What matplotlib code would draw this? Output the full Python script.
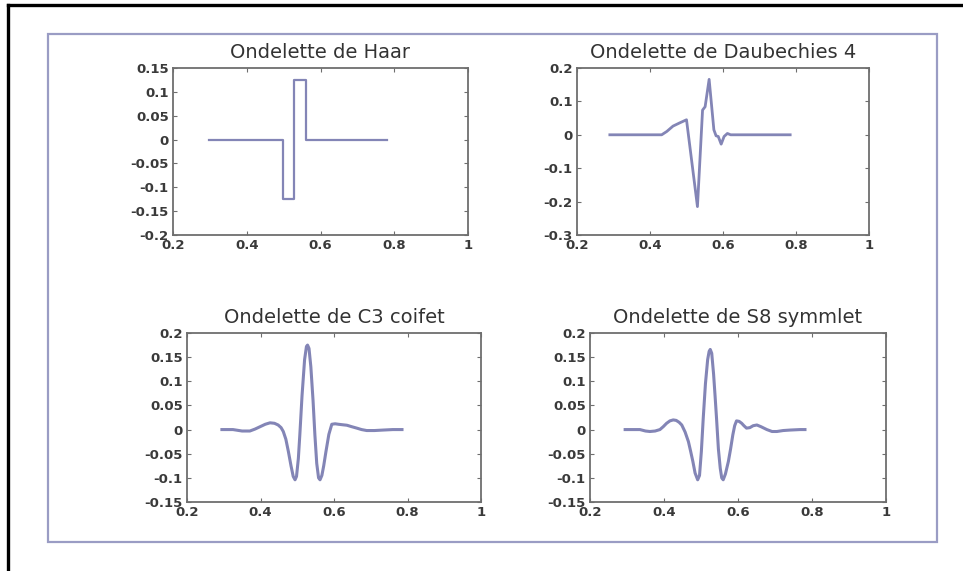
import matplotlib
matplotlib.use("Agg")
import matplotlib.pyplot as plt
from matplotlib.lines import Line2D
from matplotlib.patches import Rectangle

plt.rcParams['axes.unicode_minus'] = False

# ---- data ----
titles = ["Ondelette de Haar", "Ondelette de Daubechies 4",
          "Ondelette de C3 coifet", "Ondelette de S8 symmlet"]

haar_x = [0.297, 0.498, 0.498, 0.529, 0.529, 0.560, 0.560, 0.781]
haar_y = [0.0, 0.0, -0.125, -0.125, 0.125, 0.125, 0.0, 0.0]

db4_x = [0.290, 0.432, 0.446, 0.463, 0.482, 0.500, 0.530, 0.544, 0.551, 0.562,
         0.575, 0.581, 0.587, 0.595, 0.603, 0.612, 0.621, 0.784]
db4_y = [0.0, 0.0, 0.010, 0.026, 0.036, 0.045, -0.215, 0.074, 0.084, 0.166,
         0.015, -0.003, -0.005, -0.028, -0.005, 0.004, 0.0, 0.0]

coif_x = [0.295, 0.325, 0.350, 0.371, 0.385, 0.399, 0.413, 0.426, 0.438, 0.448,
          0.456, 0.462, 0.469, 0.476, 0.483, 0.489, 0.494, 0.498, 0.503, 0.507,
          0.513, 0.520, 0.525, 0.528, 0.532, 0.537, 0.543, 0.548, 0.553, 0.558,
          0.562, 0.567, 0.572, 0.578, 0.586, 0.594, 0.603, 0.612, 0.623, 0.635,
          0.648, 0.662, 0.675, 0.689, 0.710, 0.734, 0.760, 0.785]
coif_y = [0.0, 0.0, -0.003, -0.003, 0.001, 0.006, 0.011, 0.014, 0.013, 0.0095,
          0.004, -0.004, -0.020, -0.046, -0.075, -0.097, -0.104, -0.097, -0.060, -0.011,
          0.070, 0.145, 0.172, 0.175, 0.168, 0.130, 0.060, -0.011, -0.070, -0.100,
          -0.104, -0.095, -0.075, -0.046, -0.010, 0.011, 0.012, 0.011, 0.010, 0.009,
          0.006, 0.003, 0.0, -0.002, -0.002, -0.001, 0.0, 0.0]

sym_x = [0.295, 0.335, 0.350, 0.362, 0.376, 0.389, 0.398, 0.407, 0.416, 0.425,
         0.433, 0.441, 0.448, 0.457, 0.466, 0.472, 0.478, 0.484, 0.491, 0.496,
         0.501, 0.506, 0.512, 0.518, 0.522, 0.525, 0.529, 0.534, 0.538, 0.542,
         0.547, 0.552, 0.556, 0.560, 0.566, 0.574, 0.580, 0.586, 0.591, 0.596,
         0.603, 0.610, 0.616, 0.623, 0.632, 0.641, 0.651, 0.662, 0.678, 0.692,
         0.705, 0.722, 0.741, 0.768, 0.781]
sym_y = [0.0, 0.0, -0.003, -0.004, -0.003, 0.0, 0.006, 0.013, 0.018, 0.020,
         0.019, 0.015, 0.0095, -0.005, -0.025, -0.045, -0.066, -0.090, -0.104, -0.095,
         -0.045, 0.023, 0.095, 0.145, 0.162, 0.166, 0.158, 0.115, 0.070, 0.023,
         -0.040, -0.080, -0.100, -0.104, -0.092, -0.066, -0.040, -0.011, 0.008, 0.018,
         0.017, 0.013, 0.008, 0.003, 0.004, 0.008, 0.0095, 0.006, 0.0, -0.004,
         -0.004, -0.002, -0.001, 0.0, 0.0]

x_ticks = [0.2, 0.4, 0.6, 0.8, 1.0]
x_labels = ["0.2", "0.4", "0.6", "0.8", "1"]

haar_yticks = [-0.2, -0.15, -0.1, -0.05, 0.0, 0.05, 0.1, 0.15]
haar_ylabels = ["-0.2", "-0.15", "-0.1", "-0.05", "0", "0.05", "0.1", "0.15"]
db4_yticks = [-0.3, -0.2, -0.1, 0.0, 0.1, 0.2]
db4_ylabels = ["-0.3", "-0.2", "-0.1", "0", "0.1", "0.2"]
cs_yticks = [-0.15, -0.1, -0.05, 0.0, 0.05, 0.1, 0.15, 0.2]
cs_ylabels = ["-0.15", "-0.1", "-0.05", "0", "0.05", "0.1", "0.15", "0.2"]

# ---- figure ----
W, H = 963, 571
fig = plt.figure(figsize=(W / 100, H / 100), dpi=100)
fig.patch.set_facecolor("white")

def frac(l, t, r, b):
    return [l / W, 1 - b / H, (r - l) / W, (b - t) / H]

line_color = "#8385b6"
spine_color = "#6e6e6e"
text_color = "#3a3a3a"

# outer black border (top and left) and inner framed panel
fig.add_artist(Line2D([8 / W, 1.0], [1 - 5 / H, 1 - 5 / H], color="black", lw=2.4,
                      transform=fig.transFigure))
fig.add_artist(Line2D([8 / W, 8 / W], [0.0, 1 - 5 / H], color="black", lw=2.4,
                      transform=fig.transFigure))
fig.add_artist(Rectangle((48 / W, 1 - 542 / H), 889 / W, 508 / H, fill=False,
                         edgecolor="#9a9cc4", lw=1.6, transform=fig.transFigure))

panels = [
    (frac(173, 68, 468, 235), haar_x, haar_y, (-0.2, 0.15), haar_yticks, haar_ylabels, titles[0], 1.6),
    (frac(577, 68, 869, 235), db4_x, db4_y, (-0.3, 0.2), db4_yticks, db4_ylabels, titles[1], 2.0),
    (frac(187, 333, 481, 502), coif_x, coif_y, (-0.15, 0.2), cs_yticks, cs_ylabels, titles[2], 2.2),
    (frac(590, 333, 886, 502), sym_x, sym_y, (-0.15, 0.2), cs_yticks, cs_ylabels, titles[3], 2.2),
]

for rect, xs, ys, ylim, yt, yl, title, lw in panels:
    ax = fig.add_axes(rect)
    ax.plot(xs, ys, color=line_color, lw=lw)
    ax.set_xlim(0.2, 1.0)
    ax.set_ylim(*ylim)
    ax.set_xticks(x_ticks)
    ax.set_xticklabels(x_labels)
    ax.set_yticks(yt)
    ax.set_yticklabels(yl)
    ax.tick_params(direction="in", length=3, width=0.8, colors=spine_color,
                   top=True, right=True, pad=3)
    for lab in ax.get_xticklabels() + ax.get_yticklabels():
        lab.set_fontfamily("DejaVu Sans")
        lab.set_fontweight("bold")
        lab.set_fontsize(9.5)
        lab.set_color(text_color)
    for s in ax.spines.values():
        s.set_color(spine_color)
        s.set_linewidth(1.3)
    ax.set_title(title, fontfamily="DejaVu Sans", fontsize=14, color="#333333", pad=7)

fig.savefig("out.png", dpi=100, facecolor="white")
